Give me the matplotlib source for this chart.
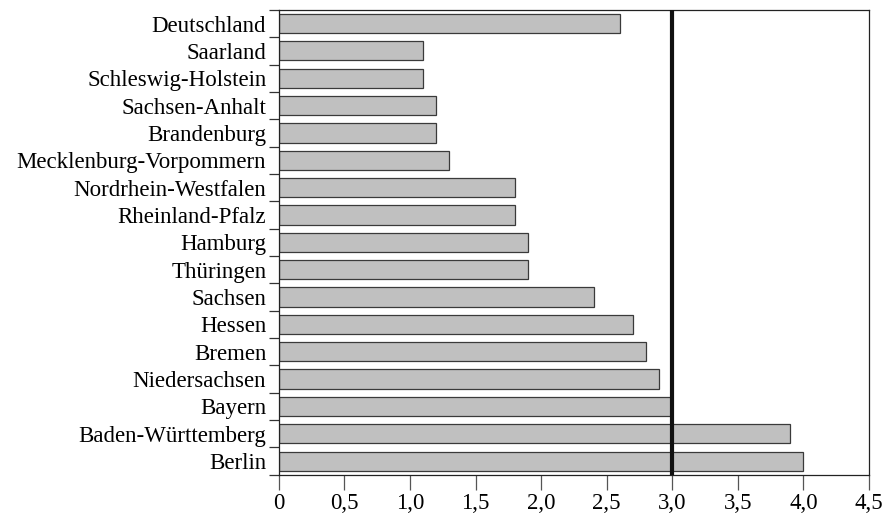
import matplotlib.pyplot as plt
import numpy as np

plt.rcParams['font.family'] = ['Liberation Serif', 'DejaVu Serif']

laender = ['Deutschland', 'Saarland', 'Schleswig-Holstein', 'Sachsen-Anhalt',
           'Brandenburg', 'Mecklenburg-Vorpommern', 'Nordrhein-Westfalen',
           'Rheinland-Pfalz', 'Hamburg', 'Thüringen', 'Sachsen', 'Hessen',
           'Bremen', 'Niedersachsen', 'Bayern', 'Baden-Württemberg', 'Berlin']
werte = [2.6, 1.1, 1.1, 1.2, 1.2, 1.3, 1.8, 1.8, 1.9, 1.9, 2.4, 2.7,
         2.8, 2.9, 3.0, 3.9, 4.0]
xticks = [0, 0.5, 1.0, 1.5, 2.0, 2.5, 3.0, 3.5, 4.0, 4.5]
xlabels = ['0', '0,5', '1,0', '1,5', '2,0', '2,5', '3,0', '3,5', '4,0', '4,5']
referenz = 3.0

fig = plt.figure(figsize=(8.85, 5.2), dpi=100)
ax = fig.add_axes([0.315, 0.087, 0.667, 0.894])

y = np.arange(len(laender))
ax.barh(y, werte, height=0.7, color='#c0c0c0', edgecolor='#3a3a3a', linewidth=0.9, zorder=2)
ax.axvline(referenz, color='#111111', linewidth=3.0, zorder=3)

ax.set_ylim(len(laender) - 0.5, -0.5)
ax.set_xlim(0, 4.5)

# labels between tick marks
ax.set_yticks(np.arange(len(laender) + 1) - 0.5)
ax.set_yticklabels([])
ax.set_yticks(y, minor=True)
ax.set_yticklabels(laender, minor=True, fontsize=16.5)
ax.tick_params(axis='y', which='major', length=7, width=0.9, color='#333333')
ax.tick_params(axis='y', which='minor', length=0, pad=9)

ax.set_xticks(xticks)
ax.set_xticklabels(xlabels, fontsize=16.5)
ax.tick_params(axis='x', length=11, width=0.9, color='#555555', pad=2)

for s in ax.spines.values():
    s.set_color('#222222')
    s.set_linewidth(0.9)

fig.savefig('out.png', dpi=100)
